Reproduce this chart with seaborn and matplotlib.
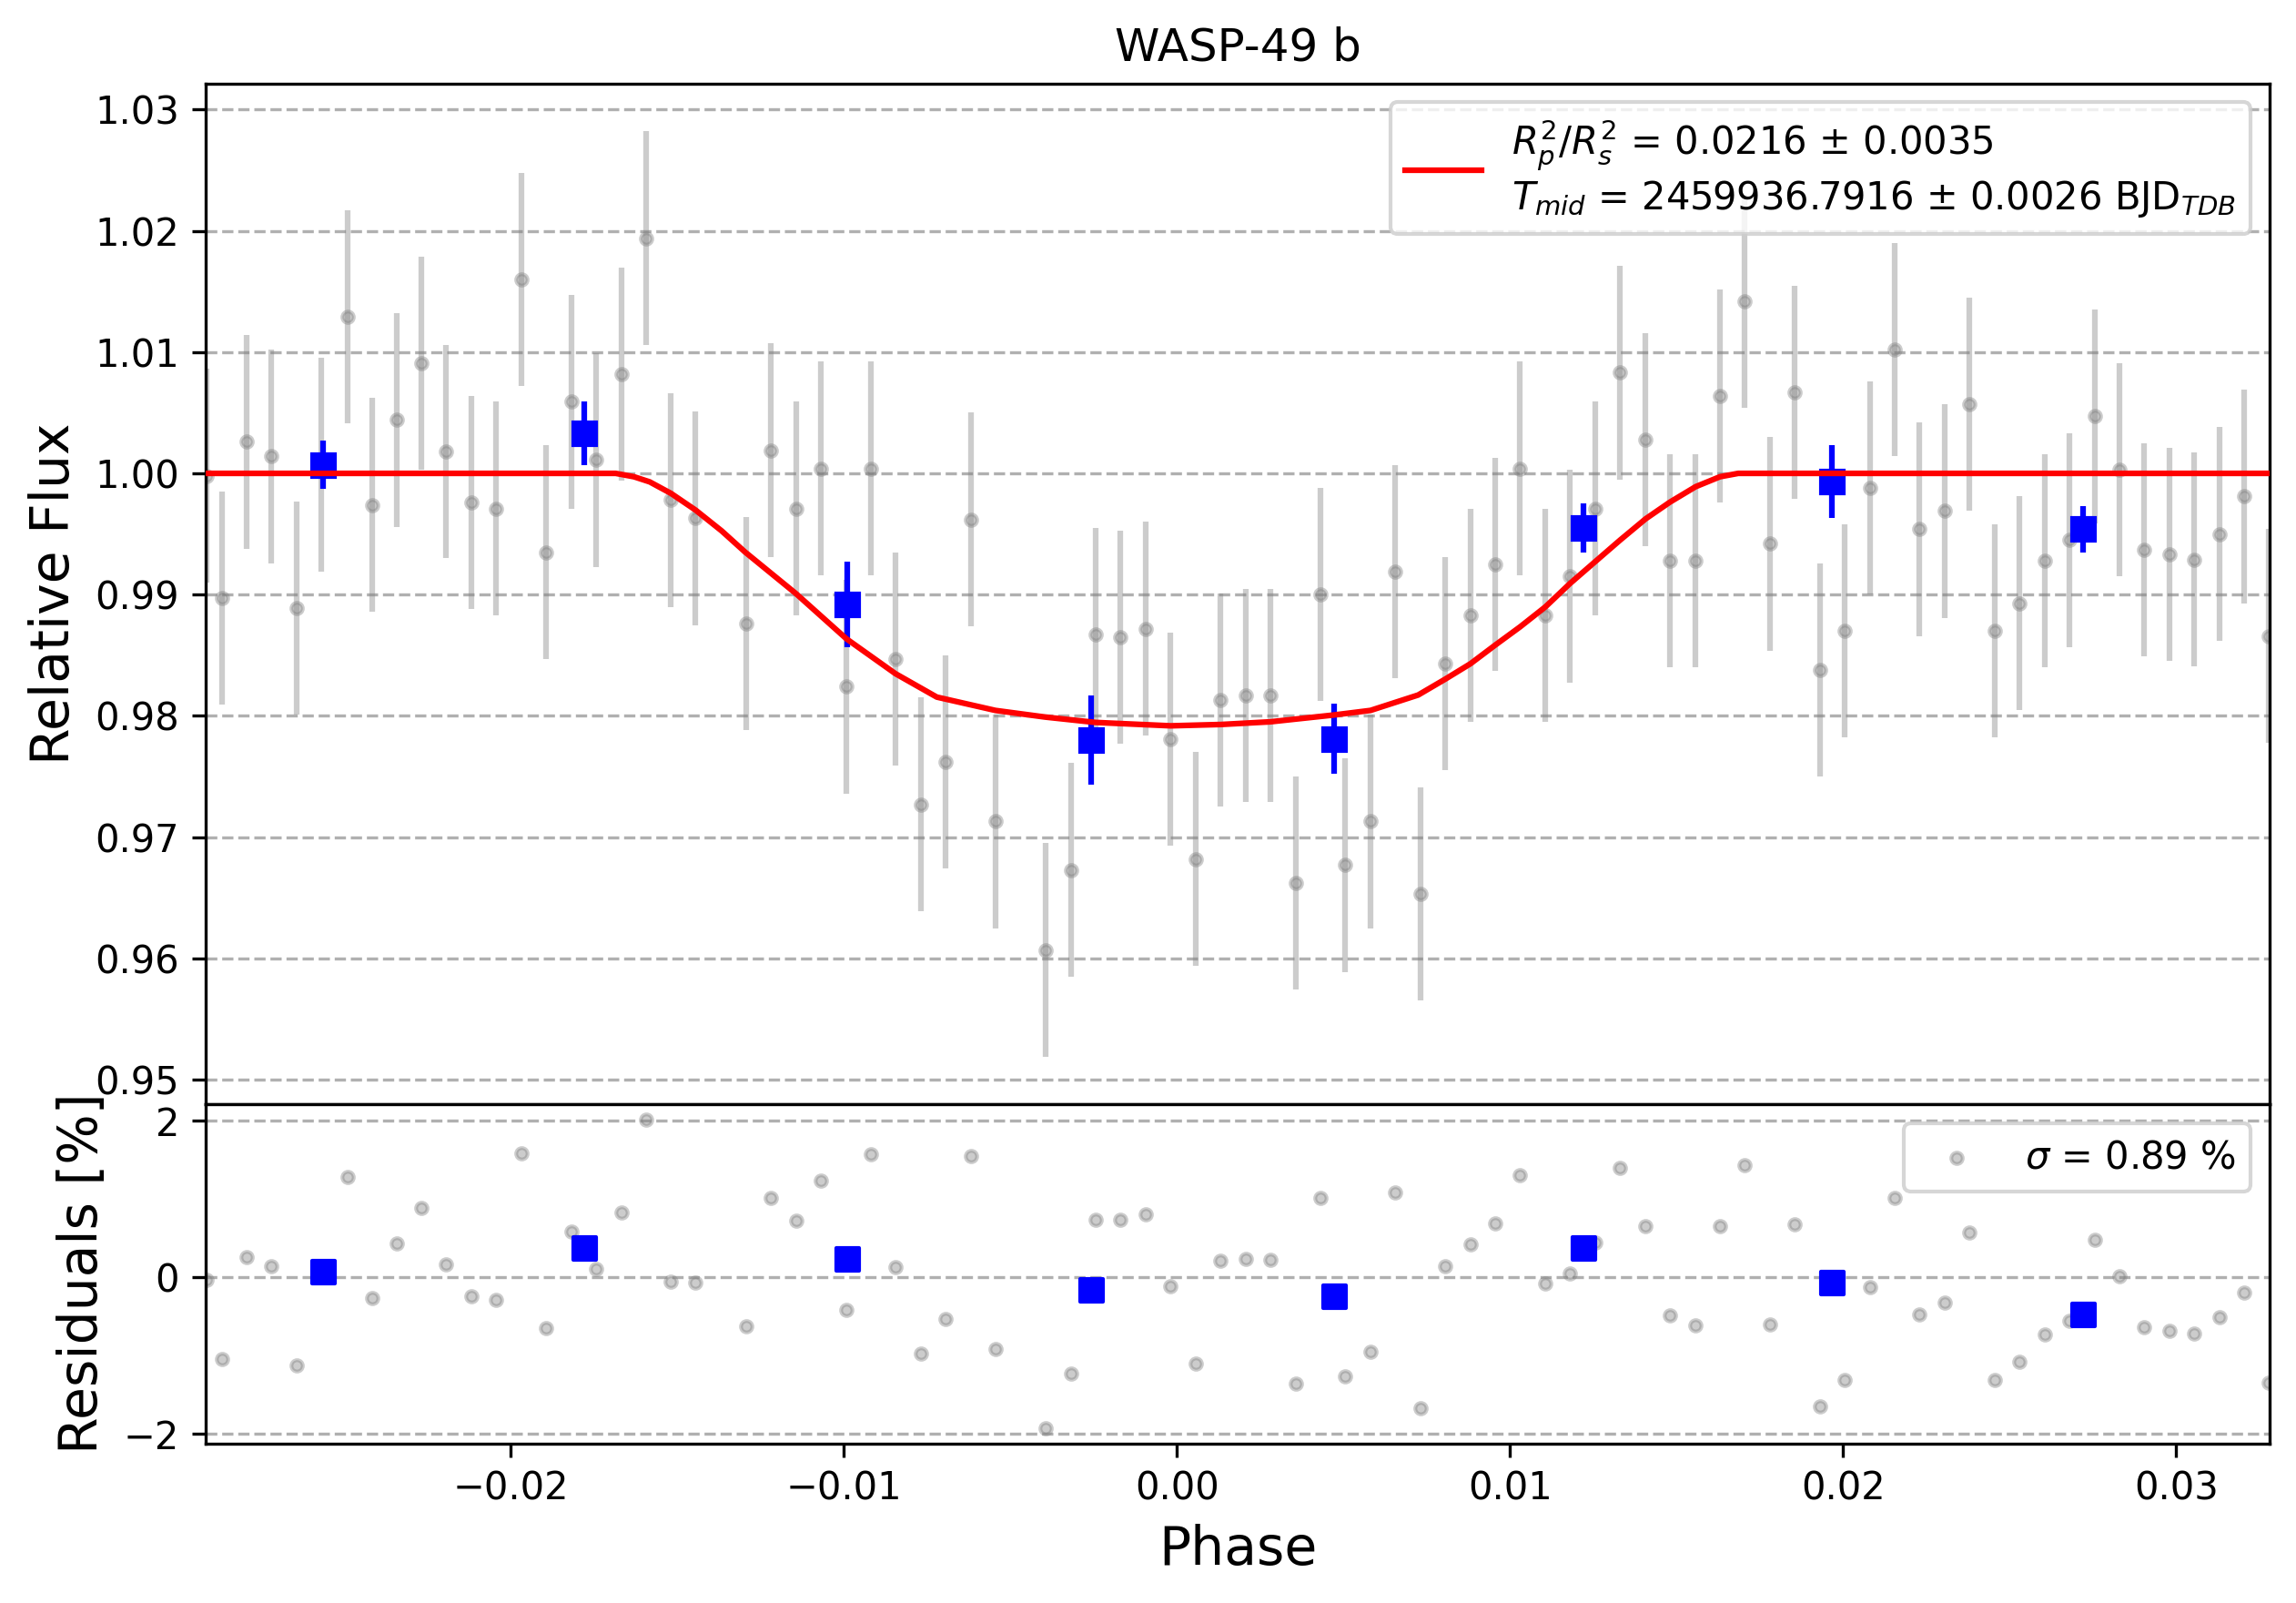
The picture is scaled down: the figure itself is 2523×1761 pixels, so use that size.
import matplotlib
matplotlib.use("Agg")
import matplotlib.pyplot as plt
import seaborn as sns

# unbinned phase-folded photometry
phase = [-0.02913, -0.02866, -0.02792, -0.02719, -0.02644, -0.02569, -0.02491, -0.02417,
         -0.02342, -0.02269, -0.02194, -0.02117, -0.02045, -0.01968, -0.01894, -0.01818,
         -0.01745, -0.01668, -0.01593, -0.01519, -0.01445, -0.01294, -0.01219, -0.01144,
         -0.01069, -0.00992, -0.00919, -0.00845, -0.00769, -0.00695, -0.00619, -0.00545,
         -0.00395, -0.00318, -0.00245, -0.00170, -0.00095, -0.00019, 0.00057, 0.00131,
         0.00206, 0.00280, 0.00357, 0.00431, 0.00505, 0.00581, 0.00656, 0.00731,
         0.00806, 0.00881, 0.00956, 0.01030, 0.01106, 0.01180, 0.01256, 0.01330,
         0.01407, 0.01480, 0.01557, 0.01630, 0.01705, 0.01780, 0.01854, 0.01930,
         0.02004, 0.02081, 0.02155, 0.02229, 0.02305, 0.02378, 0.02455, 0.02529,
         0.02606, 0.02679, 0.02756, 0.02830, 0.02904, 0.02980, 0.03054, 0.03130,
         0.03204, 0.03277]
flux = [0.9998, 0.9897, 1.0026, 1.0014, 0.9889, 1.0007, 1.0129, 0.9974,
        1.0044, 1.0091, 1.0018, 0.9976, 0.9971, 1.0160, 0.9935, 1.0059,
        1.0011, 1.0082, 1.0194, 0.9978, 0.9963, 0.9876, 1.0019, 0.9971,
        1.0004, 0.9824, 1.0004, 0.9847, 0.9727, 0.9762, 0.9962, 0.9713,
        0.9607, 0.9673, 0.9867, 0.9865, 0.9872, 0.9781, 0.9682, 0.9813,
        0.9817, 0.9817, 0.9662, 0.9900, 0.9677, 0.9713, 0.9919, 0.9653,
        0.9843, 0.9883, 0.9925, 1.0004, 0.9883, 0.9915, 0.9971, 1.0083,
        1.0028, 0.9928, 0.9928, 1.0064, 1.0142, 0.9942, 1.0067, 0.9838,
        0.9870, 0.9988, 1.0102, 0.9954, 0.9969, 1.0057, 0.9870, 0.9893,
        0.9928, 0.9945, 1.0047, 1.0003, 0.9937, 0.9933, 0.9929, 0.9950,
        0.9981, 0.9866]
flux_err = 0.0088
resid = [-0.03, -1.04, 0.26, 0.14, -1.12, 0.07, 1.28, -0.26,
         0.43, 0.89, 0.17, -0.24, -0.29, 1.59, -0.65, 0.59,
         0.11, 0.83, 2.01, -0.05, -0.07, -0.62, 1.02, 0.72,
         1.23, -0.41, 1.57, 0.13, -0.97, -0.53, 1.55, -0.92,
         -1.93, -1.23, 0.73, 0.73, 0.80, -0.11, -1.10, 0.21,
         0.24, 0.22, -1.36, 1.02, -1.26, -0.95, 1.08, -1.67,
         0.14, 0.42, 0.69, 1.31, -0.08, 0.05, 0.45, 1.40,
         0.66, -0.48, -0.61, 0.66, 1.43, -0.60, 0.68, -1.65,
         -1.31, -0.13, 1.02, -0.47, -0.32, 0.57, -1.31, -1.08,
         -0.73, -0.55, 0.48, 0.02, -0.64, -0.68, -0.72, -0.51,
         -0.20, -1.35]

# binned points
bin_phase = [-0.02564, -0.01780, -0.00989, -0.00258, 0.00473, 0.01219, 0.01967, 0.02719]
bin_flux = [1.0007, 1.0033, 0.9892, 0.9780, 0.9781, 0.9955, 0.9993, 0.9954]
bin_err = [0.0020, 0.0026, 0.0035, 0.0037, 0.0029, 0.0020, 0.0030, 0.0019]
bin_resid = [0.07, 0.38, 0.24, -0.16, -0.24, 0.38, -0.07, -0.47]

# transit model
model_phase = [-0.02916, -0.01685, -0.01630, -0.01583, -0.01519, -0.01445, -0.01367, -0.01296,
               -0.01144, -0.00992, -0.00845, -0.00721, -0.00545, -0.00395, -0.00245, -0.00019,
               0.00132, 0.00280, 0.00470, 0.00581, 0.00724, 0.00806, 0.00881, 0.00956,
               0.01030, 0.01106, 0.01180, 0.01256, 0.01330, 0.01407, 0.01480, 0.01557,
               0.01630, 0.01685, 0.03281]
model_flux = [1.0, 1.0, 0.99972, 0.99930, 0.99835, 0.99697, 0.99526, 0.99350,
              0.99009, 0.98635, 0.98348, 0.98155, 0.98045, 0.97990, 0.97946, 0.97918,
              0.97929, 0.97951, 0.98007, 0.98045, 0.98172, 0.98304, 0.98430, 0.98585,
              0.98734, 0.98899, 0.99092, 0.99273, 0.99449, 0.99625, 0.99763, 0.99890,
              0.99972, 1.0, 1.0]

flux_ticks = [0.95, 0.96, 0.97, 0.98, 0.99, 1.00, 1.01, 1.02, 1.03]
resid_ticks = [-2, 0, 2]
phase_ticks = [-0.02, -0.01, 0.00, 0.01, 0.02, 0.03]

fit_label = (r"$R_{p}^{2}/R_{s}^{2}$ = 0.0216 $\pm$ 0.0035" + "\n"
             + r"$T_{mid}$ = 2459936.7916 $\pm$ 0.0026 BJD$_{TDB}$")
sigma_label = r"$\sigma$ = 0.89 %"

fig = plt.figure(figsize=(8.41, 5.87), dpi=300)
ax = fig.add_axes([0.08970, 0.31136, 0.89893, 0.63668])
axr = fig.add_axes([0.08970, 0.09955, 0.89893, 0.21181], sharex=ax)

# top panel: light curve
ax.errorbar(phase, flux, yerr=flux_err, fmt='.', color='gray', alpha=0.4, zorder=2)
ax.errorbar(bin_phase, bin_flux, yerr=bin_err, fmt='s', color='blue', ms=6, zorder=2.5)
sns.lineplot(x=model_phase, y=model_flux, color='red', lw=1.5, ax=ax,
             estimator=None, sort=False, label=fit_label, zorder=3)
ax.set_ylim(0.948, 1.03217)
ax.set_yticks(flux_ticks)
ax.grid(axis='y', ls='--')
ax.tick_params(axis='x', bottom=False, labelbottom=False)
ax.set_ylabel('Relative Flux', fontsize=14)
ax.set_xlabel('')
ax.set_title('WASP-49 b', fontsize=12)
ax.legend(loc='upper right', fontsize=10)

# bottom panel: residuals
sns.scatterplot(x=phase, y=resid, marker='o', s=9, color='gray', edgecolor='gray',
                linewidth=1, alpha=0.4, label=sigma_label, ax=axr, zorder=2)
sns.scatterplot(x=bin_phase, y=bin_resid, marker='s', s=36, color='blue',
                edgecolor='blue', linewidth=1, ax=axr, zorder=2.5)
axr.set_ylim(-2.121, 2.216)
axr.set_yticks(resid_ticks)
axr.set_xlim(-0.02915, 0.03281)
axr.set_xticks(phase_ticks)
axr.grid(axis='y', ls='--')
axr.set_ylabel('Residuals [%]', fontsize=14)
axr.set_xlabel('Phase', fontsize=14)
axr.legend(loc='upper right', fontsize=10)

fig.savefig('out.png', dpi=300)
